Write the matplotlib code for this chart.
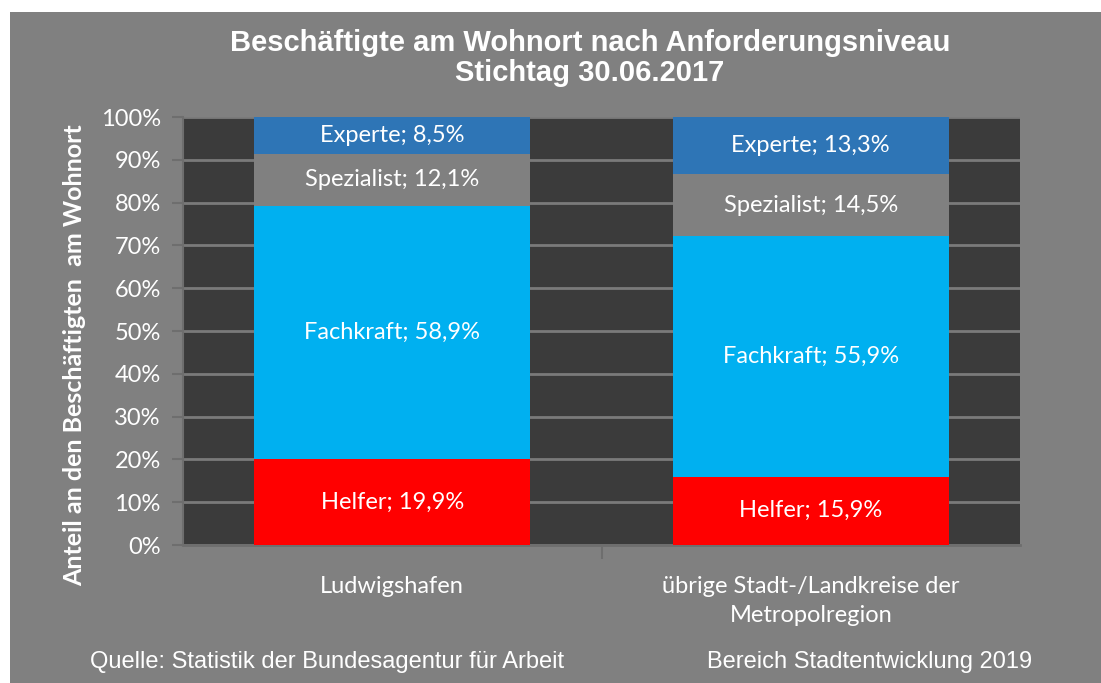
import matplotlib
matplotlib.use("Agg")
import matplotlib.pyplot as plt
from matplotlib.patches import Rectangle
import numpy as np

categories = ["Ludwigshafen", "übrige Stadt-/Landkreise der\nMetropolregion"]
series_names = ["Helfer", "Fachkraft", "Spezialist", "Experte"]
helfer = [19.9, 15.9]
fachkraft = [58.9, 55.9]
spezialist = [12.1, 14.5]
experte = [8.5, 13.3]
yticks = [0, 10, 20, 30, 40, 50, 60, 70, 80, 90, 100]
colors = ["#FF0000", "#00B0F0", "#808080", "#2E75B6"]

BG = "#808080"
PLOT_BG = "#3B3B3B"
FONT = ["Lato", "DejaVu Sans"]

fig = plt.figure(figsize=(11.01, 6.83), dpi=100)
fig.patch.set_facecolor("white")
fig.add_artist(Rectangle((10 / 1101, 0), 1 - 10 / 1101, 1 - 12 / 683,
                         transform=fig.transFigure, facecolor=BG,
                         edgecolor="none", zorder=0))

ax = fig.add_axes([183 / 1101, (683 - 545) / 683, (1020 - 183) / 1101, (545 - 117) / 683])
ax.set_facecolor(PLOT_BG)

data = np.array([helfer, fachkraft, spezialist, experte])
totals = data.sum(axis=0)
norm = data / totals * 100
x = np.arange(len(categories))
bottom = np.zeros(len(categories))
for i, name in enumerate(series_names):
    ax.bar(x, norm[i], bottom=bottom, width=0.66, color=colors[i], zorder=3)
    for j in range(len(categories)):
        val = f"{data[i, j]:.1f}".replace(".", ",")
        ax.text(x[j], bottom[j] + norm[i, j] / 2, f"{name}; {val}%",
                ha="center", va="center", color="white", fontsize=17,
                family=FONT, zorder=4)
    bottom += norm[i]

ax.set_xlim(-0.5, 1.5)
ax.set_ylim(0, 100)
ax.set_yticks(yticks)
ax.set_yticklabels([f"{t}%" for t in yticks], color="white", fontsize=17, family=FONT)
ax.yaxis.grid(True, color="#7A7A7A", linewidth=2, zorder=1)
ax.set_axisbelow(True)
ax.tick_params(axis="y", length=8, width=1.5, color="#6E6E6E", pad=8)
ax.set_xticks(x)
ax.set_xticklabels(categories, color="white", fontsize=17, family=FONT, linespacing=1.5)
ax.tick_params(axis="x", length=0, pad=22)
ax.set_xticks([0.5], minor=True)
ax.tick_params(axis="x", which="minor", length=10, width=1.5, color="#6E6E6E")
for s in ["top", "right"]:
    ax.spines[s].set_visible(False)
ax.spines["left"].set_color("#6E6E6E")
ax.spines["left"].set_linewidth(1.5)
ax.spines["bottom"].set_color("#6E6E6E")
ax.spines["bottom"].set_linewidth(2)

ax.set_ylabel("Anteil an den Beschäftigten  am Wohnort", color="white", fontsize=18,
              fontweight="bold", family=FONT)
ax.yaxis.set_label_coords((75 - 183) / 837, (545 - 355) / 428)
ax.yaxis.label.set_va("center")

fig.text(590 / 1101, 1 - 58 / 683, "Beschäftigte am Wohnort nach Anforderungsniveau\nStichtag 30.06.2017",
         ha="center", va="center", color="white", fontsize=21, fontweight="bold",
         family=["Liberation Sans", "DejaVu Sans"], linespacing=1.1)

fig.text(90 / 1101, 1 - 662 / 683, "Quelle: Statistik der Bundesagentur für Arbeit",
         ha="left", va="center", color="white", fontsize=17,
         family=["Liberation Sans", "DejaVu Sans"])
fig.text(1032 / 1101, 1 - 662 / 683, "Bereich Stadtentwicklung 2019",
         ha="right", va="center", color="white", fontsize=17,
         family=["Liberation Sans", "DejaVu Sans"])

fig.savefig("out.png", dpi=100, facecolor=fig.get_facecolor())
